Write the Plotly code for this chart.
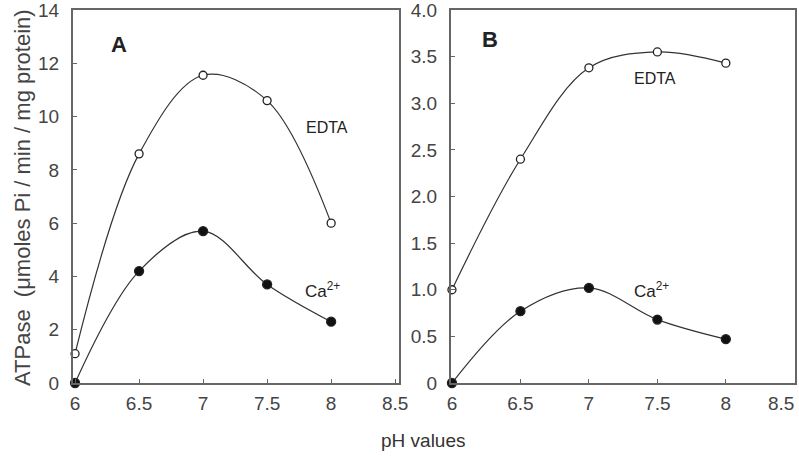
import plotly.graph_objects as go

ph = [6, 6.5, 7, 7.5, 8]
a_edta = [1.1, 8.6, 11.55, 10.6, 6.0]
a_ca = [0.0, 4.2, 5.7, 3.7, 2.3]
b_edta = [1.0, 2.4, 3.38, 3.55, 3.43]
b_ca = [0.0, 0.77, 1.02, 0.68, 0.47]

x_ticks = [6, 6.5, 7, 7.5, 8, 8.5]
x_ticktext = ["6", "6.5", "7", "7.5", "8", "8.5"]
a_yticks = [0, 2, 4, 6, 8, 10, 12, 14]
b_yticks = [0, 0.5, 1.0, 1.5, 2.0, 2.5, 3.0, 3.5, 4.0]
b_yticktext = ["0", "0.5", "1.0", "1.5", "2.0", "2.5", "3.0", "3.5", "4.0"]

W, H = 799, 457
FONT = "Liberation Sans, Arial, sans-serif"
LINE = "#333333"
TICKFONT = dict(family=FONT, size=19, color="#444444")

fig = go.Figure()

def add_series(x, y, xa, ya, filled):
    fig.add_trace(go.Scatter(
        x=x, y=y, xaxis=xa, yaxis=ya, mode="lines+markers",
        line=dict(color=LINE, width=1.2, shape="spline", smoothing=1.0),
        marker=dict(size=9 if filled else 8,
                    color="#111111" if filled else "white",
                    line=dict(color="#222222", width=1.3)),
        cliponaxis=False, showlegend=False, hoverinfo="skip"))

add_series(ph, a_edta, "x", "y", False)
add_series(ph, a_ca, "x", "y", True)
add_series(ph, b_edta, "x2", "y2", False)
add_series(ph, b_ca, "x2", "y2", True)

ax_common = dict(showgrid=False, zeroline=False, showline=True, linecolor="#666666",
                 linewidth=2, mirror=True, ticks="inside", ticklen=4, tickcolor="#666666",
                 automargin=False, ticklabeloverflow="allow", tickfont=TICKFONT)

ytop = 1 - 10 / H
ybot = 1 - 383 / H

# panel B: last x tick label drawn separately so it sits inside the page edge
b_x_ticktext = x_ticktext[:-1] + [""]

fig.update_layout(
    width=W, height=H, margin=dict(l=0, r=0, t=0, b=0),
    paper_bgcolor="white", plot_bgcolor="white",
    xaxis=dict(domain=[73 / W, 399 / W], range=[5.984, 8.53], anchor="y",
               tickvals=x_ticks, ticktext=x_ticktext, ticklabelstandoff=2, **ax_common),
    yaxis=dict(domain=[ybot, ytop], range=[0, 14], anchor="x",
               tickvals=a_yticks, ticklabelstandoff=8, **ax_common),
    xaxis2=dict(domain=[451 / W, 795 / W], range=[5.993, 8.505], anchor="y2",
                tickvals=x_ticks, ticktext=b_x_ticktext, ticklabelstandoff=2, **ax_common),
    yaxis2=dict(domain=[ybot, ytop], range=[0, 4], anchor="x2",
                tickvals=b_yticks, ticktext=b_yticktext, ticklabelstandoff=8, **ax_common),
)

fig.add_annotation(text=x_ticktext[-1], x=x_ticks[-1], y=0, xref="x2", yref="y2",
                   xanchor="right", yanchor="middle", xshift=2, yshift=-20,
                   showarrow=False, font=TICKFONT)

def ann(text, x, y, xref, yref, size, bold=False, **kw):
    fig.add_annotation(text=f"<b>{text}</b>" if bold else text, x=x, y=y, xref=xref, yref=yref,
                       showarrow=False, xanchor="center", yanchor="middle",
                       font=dict(family=FONT, size=size, color="#222222"), **kw)

ann("A", 6.34, 12.7, "x", "y", 22, bold=True)
ann("B", 6.28, 3.68, "x2", "y2", 22, bold=True)
ann("EDTA", 7.97, 9.6, "x", "y", 16)
ann("EDTA", 7.48, 3.27, "x2", "y2", 16)
ann("Ca<sup>2+</sup>", 7.93, 3.5, "x", "y", 17)
ann("Ca<sup>2+</sup>", 7.46, 1.0, "x2", "y2", 17)

fig.add_annotation(text="pH values", x=423 / W, y=1 - 440 / H, xref="paper", yref="paper",
                   xanchor="center", yanchor="middle",
                   showarrow=False, font=dict(family=FONT, size=19, color="#333333"))
fig.add_annotation(text="ATPase  (μmoles Pi / min / mg protein)", x=22 / W, y=1 - 198 / H,
                   xref="paper", yref="paper", textangle=-90, showarrow=False,
                   xanchor="center", yanchor="middle",
                   font=dict(family=FONT, size=22, color="#444444"))

fig.write_html("out.html", config={"displayModeBar": False},
               post_script="document.body.style.margin='0';")
